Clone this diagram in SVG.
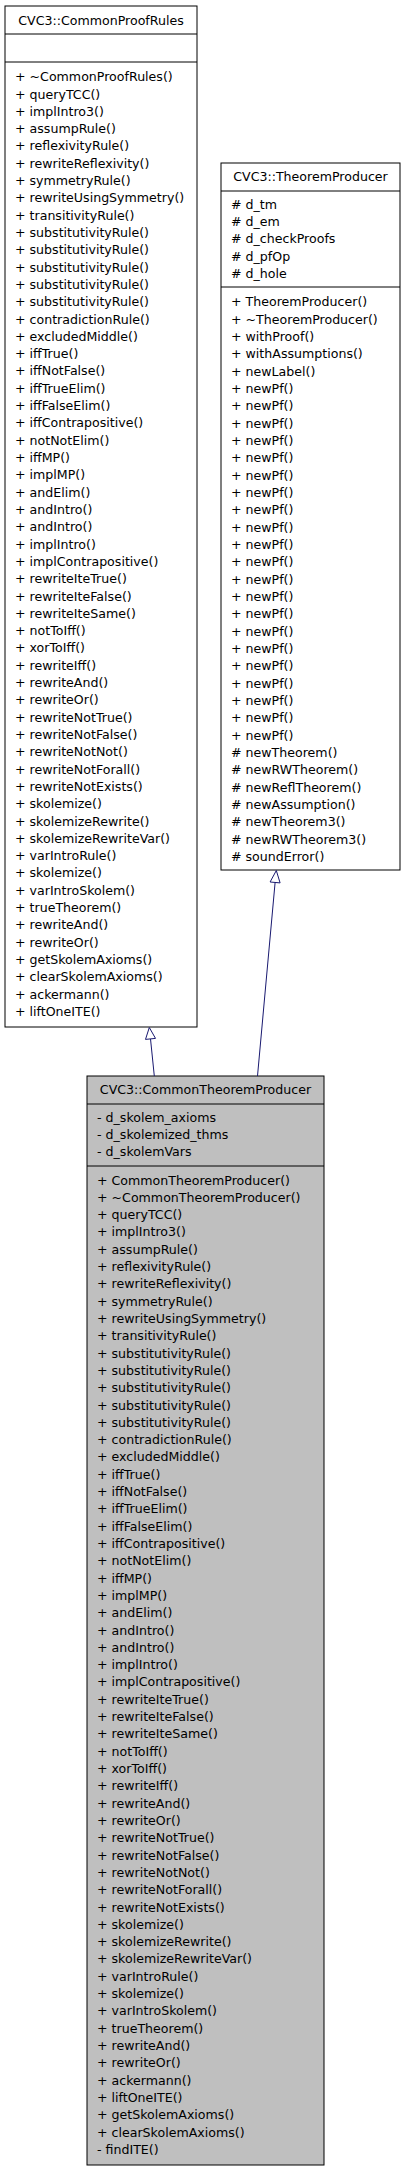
<svg xmlns="http://www.w3.org/2000/svg" width="405" height="2171" viewBox="0 0 405 2171">
<style>
text{font-family:"DejaVu Sans","Liberation Sans",sans-serif;font-size:12.6px;fill:#000}
.t{text-anchor:middle}
.box{fill:#fff;stroke:#000;stroke-width:1}
.cur{fill:#bfbfbf;stroke:#000;stroke-width:1}
.sep{stroke:#000;stroke-width:1}
.edge{stroke:#191970;stroke-width:1;fill:none}
.head{stroke:#191970;stroke-width:1;fill:#fff}
</style>
<rect width="405" height="2171" fill="#fff"/>
<g id="node-CommonProofRules">
<rect class="box" x="5" y="6" width="192" height="1021"/>
<line class="sep" x1="5" y1="34" x2="197" y2="34"/>
<line class="sep" x1="5" y1="62" x2="197" y2="62"/>
<text class="t" x="101" y="25.2">CVC3::CommonProofRules</text>
<text x="15" y="81.2"><tspan x="15">+ ~CommonProofRules()</tspan><tspan x="15" dy="17.31">+ queryTCC()</tspan><tspan x="15" dy="17.31">+ implIntro3()</tspan><tspan x="15" dy="17.31">+ assumpRule()</tspan><tspan x="15" dy="17.31">+ reflexivityRule()</tspan><tspan x="15" dy="17.31">+ rewriteReflexivity()</tspan><tspan x="15" dy="17.31">+ symmetryRule()</tspan><tspan x="15" dy="17.31">+ rewriteUsingSymmetry()</tspan><tspan x="15" dy="17.31">+ transitivityRule()</tspan><tspan x="15" dy="17.31">+ substitutivityRule()</tspan><tspan x="15" dy="17.31">+ substitutivityRule()</tspan><tspan x="15" dy="17.31">+ substitutivityRule()</tspan><tspan x="15" dy="17.31">+ substitutivityRule()</tspan><tspan x="15" dy="17.31">+ substitutivityRule()</tspan><tspan x="15" dy="17.31">+ contradictionRule()</tspan><tspan x="15" dy="17.31">+ excludedMiddle()</tspan><tspan x="15" dy="17.31">+ iffTrue()</tspan><tspan x="15" dy="17.31">+ iffNotFalse()</tspan><tspan x="15" dy="17.31">+ iffTrueElim()</tspan><tspan x="15" dy="17.31">+ iffFalseElim()</tspan><tspan x="15" dy="17.31">+ iffContrapositive()</tspan><tspan x="15" dy="17.31">+ notNotElim()</tspan><tspan x="15" dy="17.31">+ iffMP()</tspan><tspan x="15" dy="17.31">+ implMP()</tspan><tspan x="15" dy="17.31">+ andElim()</tspan><tspan x="15" dy="17.31">+ andIntro()</tspan><tspan x="15" dy="17.31">+ andIntro()</tspan><tspan x="15" dy="17.31">+ implIntro()</tspan><tspan x="15" dy="17.31">+ implContrapositive()</tspan><tspan x="15" dy="17.31">+ rewriteIteTrue()</tspan><tspan x="15" dy="17.31">+ rewriteIteFalse()</tspan><tspan x="15" dy="17.31">+ rewriteIteSame()</tspan><tspan x="15" dy="17.31">+ notToIff()</tspan><tspan x="15" dy="17.31">+ xorToIff()</tspan><tspan x="15" dy="17.31">+ rewriteIff()</tspan><tspan x="15" dy="17.31">+ rewriteAnd()</tspan><tspan x="15" dy="17.31">+ rewriteOr()</tspan><tspan x="15" dy="17.31">+ rewriteNotTrue()</tspan><tspan x="15" dy="17.31">+ rewriteNotFalse()</tspan><tspan x="15" dy="17.31">+ rewriteNotNot()</tspan><tspan x="15" dy="17.31">+ rewriteNotForall()</tspan><tspan x="15" dy="17.31">+ rewriteNotExists()</tspan><tspan x="15" dy="17.31">+ skolemize()</tspan><tspan x="15" dy="17.31">+ skolemizeRewrite()</tspan><tspan x="15" dy="17.31">+ skolemizeRewriteVar()</tspan><tspan x="15" dy="17.31">+ varIntroRule()</tspan><tspan x="15" dy="17.31">+ skolemize()</tspan><tspan x="15" dy="17.31">+ varIntroSkolem()</tspan><tspan x="15" dy="17.31">+ trueTheorem()</tspan><tspan x="15" dy="17.31">+ rewriteAnd()</tspan><tspan x="15" dy="17.31">+ rewriteOr()</tspan><tspan x="15" dy="17.31">+ getSkolemAxioms()</tspan><tspan x="15" dy="17.31">+ clearSkolemAxioms()</tspan><tspan x="15" dy="17.31">+ ackermann()</tspan><tspan x="15" dy="17.31">+ liftOneITE()</tspan></text>
</g>
<g id="node-TheoremProducer">
<rect class="box" x="221" y="163" width="179" height="707"/>
<line class="sep" x1="221" y1="191" x2="400" y2="191"/>
<line class="sep" x1="221" y1="287" x2="400" y2="287"/>
<text class="t" x="310.5" y="180.5">CVC3::TheoremProducer</text>
<text x="231" y="208.8"><tspan x="231"># d_tm</tspan><tspan x="231" dy="17.3"># d_em</tspan><tspan x="231" dy="17.3"># d_checkProofs</tspan><tspan x="231" dy="17.3"># d_pfOp</tspan><tspan x="231" dy="17.3"># d_hole</tspan></text>
<text x="231" y="306.2"><tspan x="231">+ TheoremProducer()</tspan><tspan x="231" dy="17.34">+ ~TheoremProducer()</tspan><tspan x="231" dy="17.34">+ withProof()</tspan><tspan x="231" dy="17.34">+ withAssumptions()</tspan><tspan x="231" dy="17.34">+ newLabel()</tspan><tspan x="231" dy="17.34">+ newPf()</tspan><tspan x="231" dy="17.34">+ newPf()</tspan><tspan x="231" dy="17.34">+ newPf()</tspan><tspan x="231" dy="17.34">+ newPf()</tspan><tspan x="231" dy="17.34">+ newPf()</tspan><tspan x="231" dy="17.34">+ newPf()</tspan><tspan x="231" dy="17.34">+ newPf()</tspan><tspan x="231" dy="17.34">+ newPf()</tspan><tspan x="231" dy="17.34">+ newPf()</tspan><tspan x="231" dy="17.34">+ newPf()</tspan><tspan x="231" dy="17.34">+ newPf()</tspan><tspan x="231" dy="17.34">+ newPf()</tspan><tspan x="231" dy="17.34">+ newPf()</tspan><tspan x="231" dy="17.34">+ newPf()</tspan><tspan x="231" dy="17.34">+ newPf()</tspan><tspan x="231" dy="17.34">+ newPf()</tspan><tspan x="231" dy="17.34">+ newPf()</tspan><tspan x="231" dy="17.34">+ newPf()</tspan><tspan x="231" dy="17.34">+ newPf()</tspan><tspan x="231" dy="17.34">+ newPf()</tspan><tspan x="231" dy="17.34">+ newPf()</tspan><tspan x="231" dy="17.34"># newTheorem()</tspan><tspan x="231" dy="17.34"># newRWTheorem()</tspan><tspan x="231" dy="17.34"># newReflTheorem()</tspan><tspan x="231" dy="17.34"># newAssumption()</tspan><tspan x="231" dy="17.34"># newTheorem3()</tspan><tspan x="231" dy="17.34"># newRWTheorem3()</tspan><tspan x="231" dy="17.34"># soundError()</tspan></text>
</g>
<g id="node-CommonTheoremProducer">
<rect class="cur" x="87" y="1076" width="237" height="1089"/>
<line class="sep" x1="87" y1="1104" x2="324" y2="1104"/>
<line class="sep" x1="87" y1="1166" x2="324" y2="1166"/>
<text class="t" x="205.5" y="1093.8">CVC3::CommonTheoremProducer</text>
<text x="97" y="1121.8"><tspan x="97">- d_skolem_axioms</tspan><tspan x="97" dy="17.3">- d_skolemized_thms</tspan><tspan x="97" dy="17.3">- d_skolemVars</tspan></text>
<text x="97" y="1184.5"><tspan x="97">+ CommonTheoremProducer()</tspan><tspan x="97" dy="17.31">+ ~CommonTheoremProducer()</tspan><tspan x="97" dy="17.31">+ queryTCC()</tspan><tspan x="97" dy="17.31">+ implIntro3()</tspan><tspan x="97" dy="17.31">+ assumpRule()</tspan><tspan x="97" dy="17.31">+ reflexivityRule()</tspan><tspan x="97" dy="17.31">+ rewriteReflexivity()</tspan><tspan x="97" dy="17.31">+ symmetryRule()</tspan><tspan x="97" dy="17.31">+ rewriteUsingSymmetry()</tspan><tspan x="97" dy="17.31">+ transitivityRule()</tspan><tspan x="97" dy="17.31">+ substitutivityRule()</tspan><tspan x="97" dy="17.31">+ substitutivityRule()</tspan><tspan x="97" dy="17.31">+ substitutivityRule()</tspan><tspan x="97" dy="17.31">+ substitutivityRule()</tspan><tspan x="97" dy="17.31">+ substitutivityRule()</tspan><tspan x="97" dy="17.31">+ contradictionRule()</tspan><tspan x="97" dy="17.31">+ excludedMiddle()</tspan><tspan x="97" dy="17.31">+ iffTrue()</tspan><tspan x="97" dy="17.31">+ iffNotFalse()</tspan><tspan x="97" dy="17.31">+ iffTrueElim()</tspan><tspan x="97" dy="17.31">+ iffFalseElim()</tspan><tspan x="97" dy="17.31">+ iffContrapositive()</tspan><tspan x="97" dy="17.31">+ notNotElim()</tspan><tspan x="97" dy="17.31">+ iffMP()</tspan><tspan x="97" dy="17.31">+ implMP()</tspan><tspan x="97" dy="17.31">+ andElim()</tspan><tspan x="97" dy="17.31">+ andIntro()</tspan><tspan x="97" dy="17.31">+ andIntro()</tspan><tspan x="97" dy="17.31">+ implIntro()</tspan><tspan x="97" dy="17.31">+ implContrapositive()</tspan><tspan x="97" dy="17.31">+ rewriteIteTrue()</tspan><tspan x="97" dy="17.31">+ rewriteIteFalse()</tspan><tspan x="97" dy="17.31">+ rewriteIteSame()</tspan><tspan x="97" dy="17.31">+ notToIff()</tspan><tspan x="97" dy="17.31">+ xorToIff()</tspan><tspan x="97" dy="17.31">+ rewriteIff()</tspan><tspan x="97" dy="17.31">+ rewriteAnd()</tspan><tspan x="97" dy="17.31">+ rewriteOr()</tspan><tspan x="97" dy="17.31">+ rewriteNotTrue()</tspan><tspan x="97" dy="17.31">+ rewriteNotFalse()</tspan><tspan x="97" dy="17.31">+ rewriteNotNot()</tspan><tspan x="97" dy="17.31">+ rewriteNotForall()</tspan><tspan x="97" dy="17.31">+ rewriteNotExists()</tspan><tspan x="97" dy="17.31">+ skolemize()</tspan><tspan x="97" dy="17.31">+ skolemizeRewrite()</tspan><tspan x="97" dy="17.31">+ skolemizeRewriteVar()</tspan><tspan x="97" dy="17.31">+ varIntroRule()</tspan><tspan x="97" dy="17.31">+ skolemize()</tspan><tspan x="97" dy="17.31">+ varIntroSkolem()</tspan><tspan x="97" dy="17.31">+ trueTheorem()</tspan><tspan x="97" dy="17.31">+ rewriteAnd()</tspan><tspan x="97" dy="17.31">+ rewriteOr()</tspan><tspan x="97" dy="17.31">+ ackermann()</tspan><tspan x="97" dy="17.31">+ liftOneITE()</tspan><tspan x="97" dy="17.31">+ getSkolemAxioms()</tspan><tspan x="97" dy="17.31">+ clearSkolemAxioms()</tspan><tspan x="97" dy="17.31">- findITE()</tspan></text>
</g>
<g id="connectors">
<line class="edge" x1="154.3" y1="1076" x2="150.5" y2="1038.9"/>
<polygon class="head" points="149.3,1027.5 155.5,1038.4 145.5,1039.4"/>
<line class="edge" x1="257.5" y1="1076" x2="275.1" y2="882.5"/>
<polygon class="head" points="276.3,870.5 280.1,882.9 270.1,882.0"/>
</g>
</svg>
